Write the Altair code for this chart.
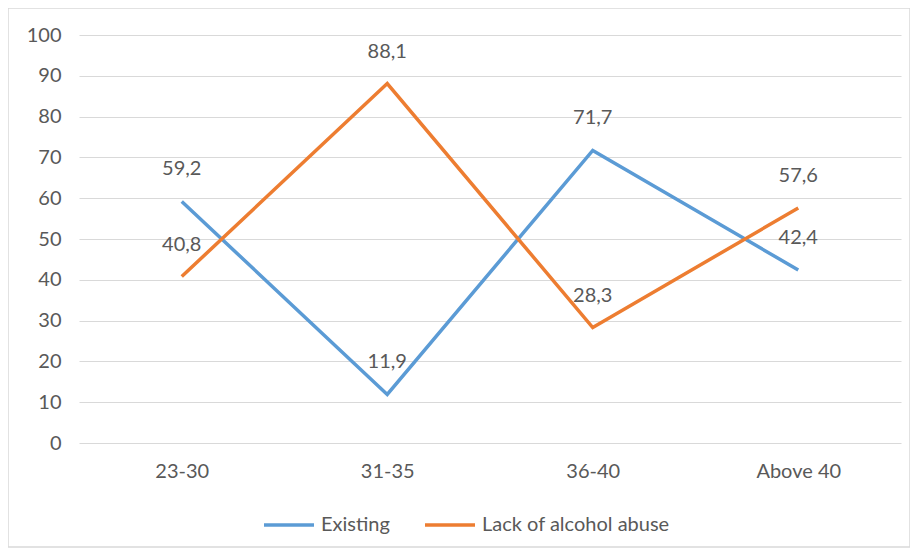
import altair as alt
import pandas as pd

categories = ["23-30", "31-35", "36-40", "Above 40"]
existing = [59.2, 11.9, 71.7, 42.4]
lack_alcohol = [40.8, 88.1, 28.3, 57.6]
series_names = ["Existing", "Lack of alcohol abuse"]
colors = ["#5b9bd5", "#ed7d31"]

rows = []
for name, vals in zip(series_names, [existing, lack_alcohol]):
    for c, v in zip(categories, vals):
        rows.append({"cat": c, "value": v, "series": name,
                     "label": f"{v:.1f}".replace(".", ",")})
df = pd.DataFrame(rows)

FONT = "Lato"
TXT = "#595959"
FS = 20

x = alt.X("cat:N", sort=categories, title=None,
          scale=alt.Scale(type="point", padding=0.5),
          axis=alt.Axis(labelAngle=0, ticks=False, domain=False, grid=False,
                        labelPadding=18, labelFontSize=FS, labelColor=TXT, labelFont=FONT))
y = alt.Y("value:Q", title=None,
          scale=alt.Scale(domain=[0, 100], nice=False),
          axis=alt.Axis(values=list(range(0, 101, 10)), ticks=False, domain=False,
                        gridColor="#d9d9d9", gridWidth=1, labelPadding=18,
                        labelFontSize=FS, labelColor=TXT, labelFont=FONT))

color = alt.Color("series:N", sort=series_names,
                  scale=alt.Scale(domain=series_names, range=colors),
                  legend=alt.Legend(title=None, orient="none", direction="horizontal",
                                    legendX=183, legendY=463,
                                    symbolType="stroke", symbolSize=2500,
                                    symbolStrokeWidth=3.5, labelFontSize=FS,
                                    labelColor=TXT, labelFont=FONT, columnPadding=28,
                                    labelOffset=5, labelLimit=400))

lines = alt.Chart(df).mark_line(strokeWidth=3.5).encode(x=x, y=y, color=color,
                                                       order=alt.Order("cat:N"))
labels = alt.Chart(df).mark_text(dy=-32, fontSize=FS, color=TXT, font=FONT).encode(
    x=alt.X("cat:N", sort=categories), y="value:Q", text="label:N")

border = alt.Chart(pd.DataFrame({"a": [0]})).mark_rect(
    fill=None, stroke="#d9d9d9", strokeWidth=1.5).encode(
    x=alt.value(-71), x2=alt.value(831), y=alt.value(-27), y2=alt.value(512))

chart = alt.layer(border, lines, labels).properties(
    width=822, height=408,
    background="white",
    autosize=alt.AutoSizeParams(type="none"),
    padding={"left": 71, "top": 27, "right": 9, "bottom": 105},
).configure_view(stroke=None).configure_axis(
    labelFontSize=FS, labelColor=TXT, labelFont=FONT
)

chart.save("out.html", embed_options={"renderer": "svg", "actions": False})
